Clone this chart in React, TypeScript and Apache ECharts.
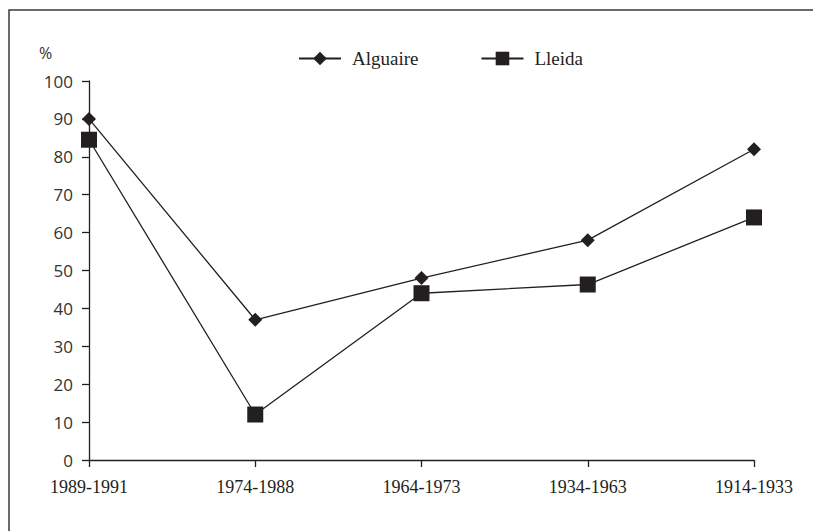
import React, { useEffect, useRef } from "react";
import * as echarts from "echarts";

const categories = ["1989-1991", "1974-1988", "1964-1973", "1934-1963", "1914-1933"];
const alguaire = [90, 37, 48, 58, 82];
const lleida = [84.5, 12, 44, 46.3, 64];
const seriesNames = ["Alguaire", "Lleida"];

const INK = "#231f20";

export default function App() {
  const ref = useRef<HTMLDivElement>(null);
  useEffect(() => {
    const chart = echarts.init(ref.current!, null, { renderer: "svg" });
    chart.setOption({
      animation: false,
      backgroundColor: "#fff",
      grid: { left: 89, right: 59, top: 81, bottom: 71, containLabel: false },
      legend: {
        left: 293,
        top: 44,
        itemWidth: 42,
        itemHeight: 17,
        itemGap: 62,
        textStyle: {
          fontFamily: "Liberation Serif",
          fontSize: 19,
          color: INK,
          padding: [0, 0, 0, 6],
        },
        data: seriesNames,
      },
      graphic: [
        {
          type: "rect",
          shape: { x: 9, y: 10, width: 900, height: 700 },
          style: { fill: "none", stroke: "#3a3a3a", lineWidth: 1.5 },
          silent: true,
        },
        {
          type: "text",
          left: 39,
          top: 45,
          style: { text: "%", fontFamily: "Open Sans", fontSize: 16, fill: "#333" },
        },
      ],
      xAxis: {
        type: "category",
        data: categories,
        boundaryGap: false,
        axisLine: { lineStyle: { color: INK, width: 1.3 } },
        axisTick: { show: true, length: 7, inside: false, alignWithLabel: true, lineStyle: { color: INK, width: 1.3 } },
        axisLabel: {
          fontFamily: "Liberation Serif",
          fontSize: 18,
          color: INK,
          margin: 18,
        },
        splitLine: { show: false },
      },
      yAxis: {
        type: "value",
        min: 0,
        max: 100,
        interval: 10,
        axisLine: { show: true, lineStyle: { color: INK, width: 1.3 } },
        axisTick: { show: true, length: 7, lineStyle: { color: INK, width: 1.3 } },
        axisLabel: {
          fontFamily: "Open Sans",
          fontSize: 17,
          color: "#333",
          margin: 16,
        },
        splitLine: { show: false },
      },
      series: [
        {
          name: seriesNames[0],
          type: "line",
          data: alguaire,
          symbol: "diamond",
          symbolSize: 14,
          lineStyle: { color: INK, width: 1.3 },
          itemStyle: { color: INK },
        },
        {
          name: seriesNames[1],
          type: "line",
          data: lleida,
          symbol: "rect",
          symbolSize: 16,
          lineStyle: { color: INK, width: 1.3 },
          itemStyle: { color: INK },
        },
      ],
    });
    return () => chart.dispose();
  }, []);
  return <div ref={ref} style={{ width: 813, height: 531, position: "absolute", left: 0, top: 0 }} />;
}
